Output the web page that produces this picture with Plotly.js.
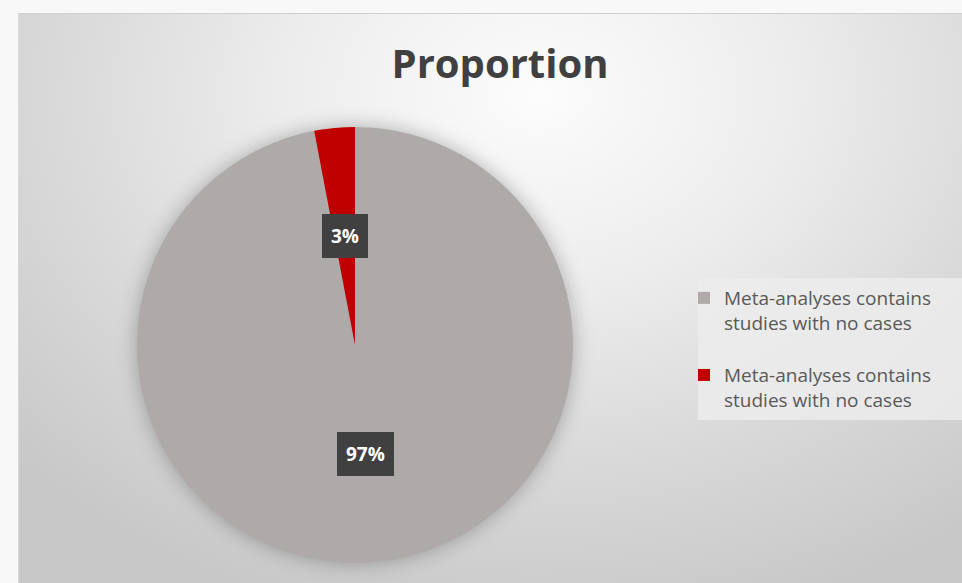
<!DOCTYPE html>
<html>
<head>
<meta charset="utf-8">
<script src="https://cdn.plot.ly/plotly-3.0.1.min.js"></script>
<style>
  html, body { margin: 0; padding: 0; background: #f8f8f8; }
  #frame {
    position: absolute; left: 18px; top: 13px; width: 944px; height: 570px;
    background: radial-gradient(ellipse 75% 95% at 55% 14%, #fcfcfc 0%, #ededed 35%, #d8d8d8 70%, #c8c8c8 100%);
    border-top: 1px solid #d0d0d0; border-left: 1px solid #d8d8d8;
  }
  #legendbox {
    position: absolute; left: 698px; top: 278px; width: 264px; height: 142px;
    background: rgba(236,236,236,0.85);
  }
  #chart { position: absolute; left: 0; top: 0; width: 962px; height: 583px; }
  .pielayer { filter: drop-shadow(0 0 10px rgba(0,0,0,0.28)); }
</style>
</head>
<body>
<div id="frame"></div>
<div id="legendbox"></div>
<div id="chart"></div>
<script>
// ---- data ----
const categories = ["Meta-analyses contains studies with no cases", "Meta-analyses contains studies with no cases"];
const values = [97, 3];
const sliceColors = ["#aeaaaa", "#c00000"];
const chartTitle = "Proportion";

// ---- layout constants ----
const W = 962, H = 583;
const pieCx = 355, pieCy = 345, pieR = 218;
const dom = {
  x: [(pieCx - pieR) / W, (pieCx + pieR) / W],
  y: [1 - (pieCy + pieR) / H, 1 - (pieCy - pieR) / H]
};

// wrap labels onto two lines; keep slices distinct with invisible suffixes;
// add a spacer line between legend entries
const displayLabels = categories.map((c, i) => {
  const words = c.split(" ");
  const first = words.slice(0, 2).join(" ");
  const rest = words.slice(2).join(" ");
  const spacer = i < categories.length - 1 ? "<br> " : "";
  return first + "<br>" + rest + "\u200b".repeat(i + 1) + spacer;
});

const total = values.reduce((a, b) => a + b, 0);

// label annotations positioned from slice mid-angles (clockwise from top)
const annotations = [];
let cum = 0;
values.forEach((v) => {
  const mid = (cum + v / 2) / total * 2 * Math.PI;
  cum += v;
  const f = 0.5;
  const px = pieCx + f * pieR * Math.sin(mid);
  const py = pieCy - f * pieR * Math.cos(mid);
  annotations.push({
    xref: "paper", yref: "paper",
    x: px / W, y: 1 - py / H,
    xanchor: "center", yanchor: "middle",
    text: "<b>" + Math.round(v / total * 100) + "%</b>",
    showarrow: false,
    font: { family: "Open Sans, sans-serif", size: 19, color: "#ffffff" },
    bgcolor: "#404040",
    borderpad: 9,
    borderwidth: 0
  });
});

const trace = {
  type: "pie",
  labels: displayLabels,
  values: values,
  sort: false,
  direction: "clockwise",
  rotation: 0,
  marker: { colors: sliceColors, line: { width: 0 } },
  textinfo: "none",
  hoverinfo: "label+percent",
  domain: dom
};

const layout = {
  width: W, height: H,
  margin: { l: 0, r: 0, t: 0, b: 0 },
  paper_bgcolor: "rgba(0,0,0,0)",
  plot_bgcolor: "rgba(0,0,0,0)",
  title: {
    text: "<b>" + chartTitle + "</b>",
    x: 500 / W, xanchor: "center",
    y: 1 - 64 / H, yanchor: "middle",
    font: { family: "Open Sans, sans-serif", size: 40, color: "#404040" }
  },
  showlegend: true,
  legend: {
    x: 684 / W, xanchor: "left",
    y: 1 - 279 / H, yanchor: "top",
    bgcolor: "rgba(0,0,0,0)",
    font: { family: "Open Sans, sans-serif", size: 19, color: "#595959" },
    valign: "top",
    itemwidth: 30,
    tracegroupgap: 0
  },
  annotations: annotations
};

Plotly.newPlot("chart", [trace], layout, { displayModeBar: false, staticPlot: true });
</script>
</body>
</html>
